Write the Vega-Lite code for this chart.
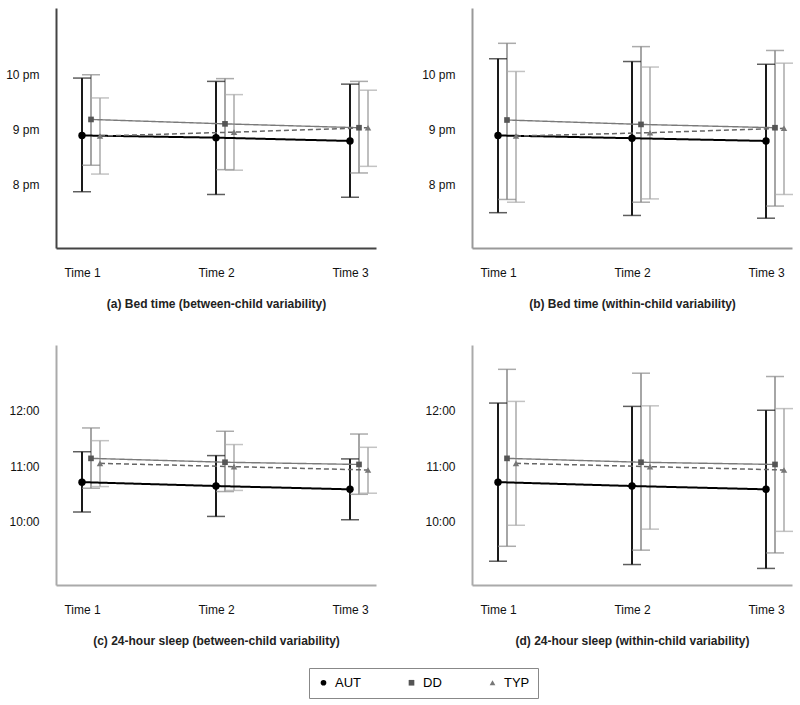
{
  "$schema": "https://vega.github.io/schema/vega-lite/v6.json",
  "padding": {"left": 5, "top": 8, "right": 5, "bottom": 5},
  "background": "white",
  "datasets": {
    "a": [
      {"time": "Time 1", "group": "AUT", "mean": 20.89, "lo": 19.87, "hi": 21.93},
      {"time": "Time 2", "group": "AUT", "mean": 20.85, "lo": 19.82, "hi": 21.87},
      {"time": "Time 3", "group": "AUT", "mean": 20.79, "lo": 19.77, "hi": 21.82},
      {"time": "Time 1", "group": "DD", "mean": 21.18, "lo": 20.35, "hi": 21.99},
      {"time": "Time 2", "group": "DD", "mean": 21.10, "lo": 20.27, "hi": 21.92},
      {"time": "Time 3", "group": "DD", "mean": 21.03, "lo": 20.21, "hi": 21.87},
      {"time": "Time 1", "group": "TYP", "mean": 20.88, "lo": 20.19, "hi": 21.57},
      {"time": "Time 2", "group": "TYP", "mean": 20.95, "lo": 20.26, "hi": 21.63},
      {"time": "Time 3", "group": "TYP", "mean": 21.03, "lo": 20.33, "hi": 21.71}
    ],
    "b": [
      {"time": "Time 1", "group": "AUT", "mean": 20.89, "lo": 19.49, "hi": 22.28},
      {"time": "Time 2", "group": "AUT", "mean": 20.84, "lo": 19.44, "hi": 22.23},
      {"time": "Time 3", "group": "AUT", "mean": 20.79, "lo": 19.39, "hi": 22.18},
      {"time": "Time 1", "group": "DD", "mean": 21.17, "lo": 19.73, "hi": 22.56},
      {"time": "Time 2", "group": "DD", "mean": 21.09, "lo": 19.68, "hi": 22.50},
      {"time": "Time 3", "group": "DD", "mean": 21.03, "lo": 19.61, "hi": 22.43},
      {"time": "Time 1", "group": "TYP", "mean": 20.88, "lo": 19.68, "hi": 22.05},
      {"time": "Time 2", "group": "TYP", "mean": 20.94, "lo": 19.74, "hi": 22.13},
      {"time": "Time 3", "group": "TYP", "mean": 21.02, "lo": 19.82, "hi": 22.20}
    ],
    "c": [
      {"time": "Time 1", "group": "AUT", "mean": 10.71, "lo": 10.17, "hi": 11.26},
      {"time": "Time 2", "group": "AUT", "mean": 10.64, "lo": 10.09, "hi": 11.19},
      {"time": "Time 3", "group": "AUT", "mean": 10.58, "lo": 10.03, "hi": 11.13},
      {"time": "Time 1", "group": "DD", "mean": 11.14, "lo": 10.60, "hi": 11.69},
      {"time": "Time 2", "group": "DD", "mean": 11.07, "lo": 10.54, "hi": 11.63},
      {"time": "Time 3", "group": "DD", "mean": 11.03, "lo": 10.49, "hi": 11.58},
      {"time": "Time 1", "group": "TYP", "mean": 11.05, "lo": 10.63, "hi": 11.46},
      {"time": "Time 2", "group": "TYP", "mean": 10.99, "lo": 10.56, "hi": 11.39},
      {"time": "Time 3", "group": "TYP", "mean": 10.93, "lo": 10.51, "hi": 11.34}
    ],
    "d": [
      {"time": "Time 1", "group": "AUT", "mean": 10.71, "lo": 9.28, "hi": 12.14},
      {"time": "Time 2", "group": "AUT", "mean": 10.64, "lo": 9.22, "hi": 12.08},
      {"time": "Time 3", "group": "AUT", "mean": 10.58, "lo": 9.15, "hi": 12.01},
      {"time": "Time 1", "group": "DD", "mean": 11.14, "lo": 9.55, "hi": 12.75},
      {"time": "Time 2", "group": "DD", "mean": 11.07, "lo": 9.48, "hi": 12.68},
      {"time": "Time 3", "group": "DD", "mean": 11.03, "lo": 9.43, "hi": 12.62},
      {"time": "Time 1", "group": "TYP", "mean": 11.05, "lo": 9.93, "hi": 12.17},
      {"time": "Time 2", "group": "TYP", "mean": 10.99, "lo": 9.86, "hi": 12.09},
      {"time": "Time 3", "group": "TYP", "mean": 10.93, "lo": 9.82, "hi": 12.04}
    ]
  },
  "columns": 2,
  "bounds": "flush",
  "spacing": {"column": 96, "row": 97},
  "resolve": {"scale": {"y": "independent", "color": "shared", "shape": "shared"}, "legend": {"color": "shared", "shape": "shared"}},
  "concat": [
    {
      "data": {"name": "a"},
      "width": 320, "height": 240,
      "encoding": {
        "x": {"field": "time", "type": "ordinal", "scale": {"type": "point", "padding": 0.194, "domain": ["Time 1", "Time 2", "Time 3"]}, "axis": {"title": "(a) Bed time (between-child variability)", "domainColor": "#444"}},
        "xOffset": {"field": "group", "type": "nominal", "scale": {"type": "point", "domain": ["AUT", "DD", "TYP"], "range": [0, 18], "padding": 0}}
      },
      "layer": [
        {"mark": {"type": "rule"}, "encoding": {
          "y": {"field": "lo", "type": "quantitative", "scale": {"domain": [18.85, 23.2], "nice": false, "zero": false}, "axis": {"title": null, "values": [20, 21, 22], "labelExpr": "(datum.value - 12) + ' pm'", "domainColor": "#444"}},
          "y2": {"field": "hi"},
          "stroke": {"condition": [{"test": "datum.group === 'AUT'", "value": "#1a1a1a"}, {"test": "datum.group === 'DD'", "value": "#888888"}], "value": "#aaaaaa"},
          "strokeWidth": {"condition": {"test": "datum.group === 'AUT'", "value": 2}, "value": 1.5}}},
        {"mark": {"type": "tick", "thickness": 1.5, "size": 18}, "encoding": {
          "y": {"field": "lo", "type": "quantitative", "axis": {"title": null, "values": [20, 21, 22], "labelExpr": "(datum.value - 12) + ' pm'", "domainColor": "#444"}},
          "color": {"condition": [{"test": "datum.group === 'AUT'", "value": "#1a1a1a"}, {"test": "datum.group === 'DD'", "value": "#888888"}], "value": "#aaaaaa"}}},
        {"mark": {"type": "tick", "thickness": 1.5, "size": 18}, "encoding": {
          "y": {"field": "hi", "type": "quantitative", "axis": {"title": null, "values": [20, 21, 22], "labelExpr": "(datum.value - 12) + ' pm'", "domainColor": "#444"}},
          "color": {"condition": [{"test": "datum.group === 'AUT'", "value": "#1a1a1a"}, {"test": "datum.group === 'DD'", "value": "#888888"}], "value": "#aaaaaa"}}},
        {"mark": {"type": "line"}, "encoding": {
          "y": {"field": "mean", "type": "quantitative", "axis": {"title": null, "values": [20, 21, 22], "labelExpr": "(datum.value - 12) + ' pm'", "domainColor": "#444"}},
          "detail": {"field": "group", "type": "nominal"},
          "color": {"condition": [{"test": "datum.group === 'AUT'", "value": "#000000"}, {"test": "datum.group === 'DD'", "value": "#7a7a7a"}], "value": "#666666"},
          "strokeDash": {"condition": {"test": "datum.group === 'TYP'", "value": [5, 3]}, "value": [1, 0]},
          "strokeWidth": {"condition": [{"test": "datum.group === 'AUT'", "value": 2}, {"test": "datum.group === 'DD'", "value": 1.4}], "value": 1.5}}},
        {"mark": {"type": "point", "filled": true, "opacity": 1}, "encoding": {
          "y": {"field": "mean", "type": "quantitative", "axis": {"title": null, "values": [20, 21, 22], "labelExpr": "(datum.value - 12) + ' pm'", "domainColor": "#444"}},
          "color": {"field": "group", "type": "nominal", "scale": {"domain": ["AUT", "DD", "TYP"], "range": ["#000000", "#555555", "#777777"]}, "legend": {"title": null, "orient": "none", "legendX": 253, "legendY": 660, "direction": "horizontal", "encode": {"labels": {"update": {"fill": {"signal": "datum.value === 'AUT' ? '#000000' : datum.value === 'DD' ? '#555555' : '#888888'"}}}}}},
          "shape": {"field": "group", "type": "nominal", "scale": {"domain": ["AUT", "DD", "TYP"], "range": ["circle", "square", "triangle-up"]}, "legend": {"title": null, "orient": "none", "legendX": 253, "legendY": 660, "direction": "horizontal", "encode": {"labels": {"update": {"fill": {"signal": "datum.value === 'AUT' ? '#000000' : datum.value === 'DD' ? '#555555' : '#888888'"}}}}}},
          "size": {"condition": [{"test": "datum.group === 'AUT'", "value": 55}, {"test": "datum.group === 'DD'", "value": 32}], "value": 42}}}
      ]
    },
    {
      "data": {"name": "b"},
      "width": 320, "height": 240,
      "encoding": {
        "x": {"field": "time", "type": "ordinal", "scale": {"type": "point", "padding": 0.194, "domain": ["Time 1", "Time 2", "Time 3"]}, "axis": {"title": "(b) Bed time (within-child variability)", "domainColor": "#999"}},
        "xOffset": {"field": "group", "type": "nominal", "scale": {"type": "point", "domain": ["AUT", "DD", "TYP"], "range": [0, 18], "padding": 0}}
      },
      "layer": [
        {"mark": {"type": "rule"}, "encoding": {
          "y": {"field": "lo", "type": "quantitative", "scale": {"domain": [18.85, 23.2], "nice": false, "zero": false}, "axis": {"title": null, "values": [20, 21, 22], "labelExpr": "(datum.value - 12) + ' pm'", "domainColor": "#999"}},
          "y2": {"field": "hi"},
          "stroke": {"condition": [{"test": "datum.group === 'AUT'", "value": "#1a1a1a"}, {"test": "datum.group === 'DD'", "value": "#888888"}], "value": "#aaaaaa"},
          "strokeWidth": {"condition": {"test": "datum.group === 'AUT'", "value": 2}, "value": 1.5}}},
        {"mark": {"type": "tick", "thickness": 1.5, "size": 18}, "encoding": {
          "y": {"field": "lo", "type": "quantitative", "axis": {"title": null, "values": [20, 21, 22], "labelExpr": "(datum.value - 12) + ' pm'", "domainColor": "#999"}},
          "color": {"condition": [{"test": "datum.group === 'AUT'", "value": "#1a1a1a"}, {"test": "datum.group === 'DD'", "value": "#888888"}], "value": "#aaaaaa"}}},
        {"mark": {"type": "tick", "thickness": 1.5, "size": 18}, "encoding": {
          "y": {"field": "hi", "type": "quantitative", "axis": {"title": null, "values": [20, 21, 22], "labelExpr": "(datum.value - 12) + ' pm'", "domainColor": "#999"}},
          "color": {"condition": [{"test": "datum.group === 'AUT'", "value": "#1a1a1a"}, {"test": "datum.group === 'DD'", "value": "#888888"}], "value": "#aaaaaa"}}},
        {"mark": {"type": "line"}, "encoding": {
          "y": {"field": "mean", "type": "quantitative", "axis": {"title": null, "values": [20, 21, 22], "labelExpr": "(datum.value - 12) + ' pm'", "domainColor": "#999"}},
          "detail": {"field": "group", "type": "nominal"},
          "color": {"condition": [{"test": "datum.group === 'AUT'", "value": "#000000"}, {"test": "datum.group === 'DD'", "value": "#7a7a7a"}], "value": "#666666"},
          "strokeDash": {"condition": {"test": "datum.group === 'TYP'", "value": [5, 3]}, "value": [1, 0]},
          "strokeWidth": {"condition": [{"test": "datum.group === 'AUT'", "value": 2}, {"test": "datum.group === 'DD'", "value": 1.4}], "value": 1.5}}},
        {"mark": {"type": "point", "filled": true, "opacity": 1}, "encoding": {
          "y": {"field": "mean", "type": "quantitative", "axis": {"title": null, "values": [20, 21, 22], "labelExpr": "(datum.value - 12) + ' pm'", "domainColor": "#999"}},
          "color": {"field": "group", "type": "nominal", "scale": {"domain": ["AUT", "DD", "TYP"], "range": ["#000000", "#555555", "#777777"]}, "legend": {"title": null, "orient": "none", "legendX": 253, "legendY": 660, "direction": "horizontal", "encode": {"labels": {"update": {"fill": {"signal": "datum.value === 'AUT' ? '#000000' : datum.value === 'DD' ? '#555555' : '#888888'"}}}}}},
          "shape": {"field": "group", "type": "nominal", "scale": {"domain": ["AUT", "DD", "TYP"], "range": ["circle", "square", "triangle-up"]}, "legend": {"title": null, "orient": "none", "legendX": 253, "legendY": 660, "direction": "horizontal", "encode": {"labels": {"update": {"fill": {"signal": "datum.value === 'AUT' ? '#000000' : datum.value === 'DD' ? '#555555' : '#888888'"}}}}}},
          "size": {"condition": [{"test": "datum.group === 'AUT'", "value": 55}, {"test": "datum.group === 'DD'", "value": 32}], "value": 42}}}
      ]
    },
    {
      "data": {"name": "c"},
      "width": 320, "height": 240,
      "encoding": {
        "x": {"field": "time", "type": "ordinal", "scale": {"type": "point", "padding": 0.194, "domain": ["Time 1", "Time 2", "Time 3"]}, "axis": {"title": "(c) 24-hour sleep (between-child variability)", "domainColor": "#aaa"}},
        "xOffset": {"field": "group", "type": "nominal", "scale": {"type": "point", "domain": ["AUT", "DD", "TYP"], "range": [0, 18], "padding": 0}}
      },
      "layer": [
        {"mark": {"type": "rule"}, "encoding": {
          "y": {"field": "lo", "type": "quantitative", "scale": {"domain": [8.85, 13.19], "nice": false, "zero": false}, "axis": {"title": null, "values": [10, 11, 12], "labelExpr": "datum.value + ':00'", "domainColor": "#aaa"}},
          "y2": {"field": "hi"},
          "stroke": {"condition": [{"test": "datum.group === 'AUT'", "value": "#1a1a1a"}, {"test": "datum.group === 'DD'", "value": "#888888"}], "value": "#aaaaaa"},
          "strokeWidth": {"condition": {"test": "datum.group === 'AUT'", "value": 2}, "value": 1.5}}},
        {"mark": {"type": "tick", "thickness": 1.5, "size": 18}, "encoding": {
          "y": {"field": "lo", "type": "quantitative", "axis": {"title": null, "values": [10, 11, 12], "labelExpr": "datum.value + ':00'", "domainColor": "#aaa"}},
          "color": {"condition": [{"test": "datum.group === 'AUT'", "value": "#1a1a1a"}, {"test": "datum.group === 'DD'", "value": "#888888"}], "value": "#aaaaaa"}}},
        {"mark": {"type": "tick", "thickness": 1.5, "size": 18}, "encoding": {
          "y": {"field": "hi", "type": "quantitative", "axis": {"title": null, "values": [10, 11, 12], "labelExpr": "datum.value + ':00'", "domainColor": "#aaa"}},
          "color": {"condition": [{"test": "datum.group === 'AUT'", "value": "#1a1a1a"}, {"test": "datum.group === 'DD'", "value": "#888888"}], "value": "#aaaaaa"}}},
        {"mark": {"type": "line"}, "encoding": {
          "y": {"field": "mean", "type": "quantitative", "axis": {"title": null, "values": [10, 11, 12], "labelExpr": "datum.value + ':00'", "domainColor": "#aaa"}},
          "detail": {"field": "group", "type": "nominal"},
          "color": {"condition": [{"test": "datum.group === 'AUT'", "value": "#000000"}, {"test": "datum.group === 'DD'", "value": "#7a7a7a"}], "value": "#666666"},
          "strokeDash": {"condition": {"test": "datum.group === 'TYP'", "value": [5, 3]}, "value": [1, 0]},
          "strokeWidth": {"condition": [{"test": "datum.group === 'AUT'", "value": 2}, {"test": "datum.group === 'DD'", "value": 1.4}], "value": 1.5}}},
        {"mark": {"type": "point", "filled": true, "opacity": 1}, "encoding": {
          "y": {"field": "mean", "type": "quantitative", "axis": {"title": null, "values": [10, 11, 12], "labelExpr": "datum.value + ':00'", "domainColor": "#aaa"}},
          "color": {"field": "group", "type": "nominal", "scale": {"domain": ["AUT", "DD", "TYP"], "range": ["#000000", "#555555", "#777777"]}, "legend": {"title": null, "orient": "none", "legendX": 253, "legendY": 660, "direction": "horizontal", "encode": {"labels": {"update": {"fill": {"signal": "datum.value === 'AUT' ? '#000000' : datum.value === 'DD' ? '#555555' : '#888888'"}}}}}},
          "shape": {"field": "group", "type": "nominal", "scale": {"domain": ["AUT", "DD", "TYP"], "range": ["circle", "square", "triangle-up"]}, "legend": {"title": null, "orient": "none", "legendX": 253, "legendY": 660, "direction": "horizontal", "encode": {"labels": {"update": {"fill": {"signal": "datum.value === 'AUT' ? '#000000' : datum.value === 'DD' ? '#555555' : '#888888'"}}}}}},
          "size": {"condition": [{"test": "datum.group === 'AUT'", "value": 55}, {"test": "datum.group === 'DD'", "value": 32}], "value": 42}}}
      ]
    },
    {
      "data": {"name": "d"},
      "width": 320, "height": 240,
      "encoding": {
        "x": {"field": "time", "type": "ordinal", "scale": {"type": "point", "padding": 0.194, "domain": ["Time 1", "Time 2", "Time 3"]}, "axis": {"title": "(d) 24-hour sleep (within-child variability)", "domainColor": "#aaa"}},
        "xOffset": {"field": "group", "type": "nominal", "scale": {"type": "point", "domain": ["AUT", "DD", "TYP"], "range": [0, 18], "padding": 0}}
      },
      "layer": [
        {"mark": {"type": "rule"}, "encoding": {
          "y": {"field": "lo", "type": "quantitative", "scale": {"domain": [8.85, 13.19], "nice": false, "zero": false}, "axis": {"title": null, "values": [10, 11, 12], "labelExpr": "datum.value + ':00'", "domainColor": "#aaa"}},
          "y2": {"field": "hi"},
          "stroke": {"condition": [{"test": "datum.group === 'AUT'", "value": "#1a1a1a"}, {"test": "datum.group === 'DD'", "value": "#888888"}], "value": "#aaaaaa"},
          "strokeWidth": {"condition": {"test": "datum.group === 'AUT'", "value": 2}, "value": 1.5}}},
        {"mark": {"type": "tick", "thickness": 1.5, "size": 18}, "encoding": {
          "y": {"field": "lo", "type": "quantitative", "axis": {"title": null, "values": [10, 11, 12], "labelExpr": "datum.value + ':00'", "domainColor": "#aaa"}},
          "color": {"condition": [{"test": "datum.group === 'AUT'", "value": "#1a1a1a"}, {"test": "datum.group === 'DD'", "value": "#888888"}], "value": "#aaaaaa"}}},
        {"mark": {"type": "tick", "thickness": 1.5, "size": 18}, "encoding": {
          "y": {"field": "hi", "type": "quantitative", "axis": {"title": null, "values": [10, 11, 12], "labelExpr": "datum.value + ':00'", "domainColor": "#aaa"}},
          "color": {"condition": [{"test": "datum.group === 'AUT'", "value": "#1a1a1a"}, {"test": "datum.group === 'DD'", "value": "#888888"}], "value": "#aaaaaa"}}},
        {"mark": {"type": "line"}, "encoding": {
          "y": {"field": "mean", "type": "quantitative", "axis": {"title": null, "values": [10, 11, 12], "labelExpr": "datum.value + ':00'", "domainColor": "#aaa"}},
          "detail": {"field": "group", "type": "nominal"},
          "color": {"condition": [{"test": "datum.group === 'AUT'", "value": "#000000"}, {"test": "datum.group === 'DD'", "value": "#7a7a7a"}], "value": "#666666"},
          "strokeDash": {"condition": {"test": "datum.group === 'TYP'", "value": [5, 3]}, "value": [1, 0]},
          "strokeWidth": {"condition": [{"test": "datum.group === 'AUT'", "value": 2}, {"test": "datum.group === 'DD'", "value": 1.4}], "value": 1.5}}},
        {"mark": {"type": "point", "filled": true, "opacity": 1}, "encoding": {
          "y": {"field": "mean", "type": "quantitative", "axis": {"title": null, "values": [10, 11, 12], "labelExpr": "datum.value + ':00'", "domainColor": "#aaa"}},
          "color": {"field": "group", "type": "nominal", "scale": {"domain": ["AUT", "DD", "TYP"], "range": ["#000000", "#555555", "#777777"]}, "legend": {"title": null, "orient": "none", "legendX": 253, "legendY": 660, "direction": "horizontal", "encode": {"labels": {"update": {"fill": {"signal": "datum.value === 'AUT' ? '#000000' : datum.value === 'DD' ? '#555555' : '#888888'"}}}}}},
          "shape": {"field": "group", "type": "nominal", "scale": {"domain": ["AUT", "DD", "TYP"], "range": ["circle", "square", "triangle-up"]}, "legend": {"title": null, "orient": "none", "legendX": 253, "legendY": 660, "direction": "horizontal", "encode": {"labels": {"update": {"fill": {"signal": "datum.value === 'AUT' ? '#000000' : datum.value === 'DD' ? '#555555' : '#888888'"}}}}}},
          "size": {"condition": [{"test": "datum.group === 'AUT'", "value": 55}, {"test": "datum.group === 'DD'", "value": 32}], "value": 42}}}
      ]
    }
  ],
  "config": {
    "font": "Liberation Sans",
    "view": {"stroke": null},
    "axis": {"grid": false, "ticks": false, "tickSize": 0, "domainWidth": 2, "labelFontSize": 12, "labelColor": "#111111", "titleFontSize": 12, "titleFontWeight": "bold", "titleColor": "#222222"},
    "axisX": {"labelPadding": 19, "titlePadding": 20, "labelAngle": 0},
    "axisY": {"labelPadding": 17},
    "legend": {"strokeColor": "#888888", "padding": 8, "columnPadding": 44, "symbolSize": 32, "symbolStrokeWidth": 0, "labelFontSize": 13, "labelOffset": 5, "cornerRadius": 0, "fillColor": "white"}
  }
}
